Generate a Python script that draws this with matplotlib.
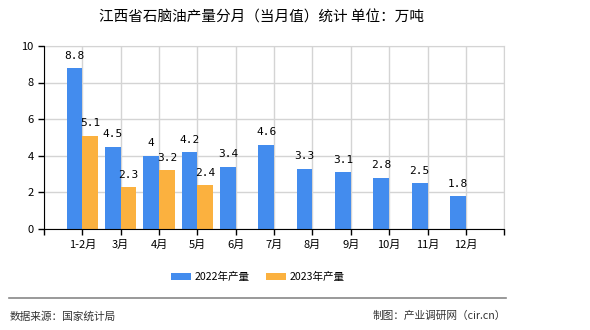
import matplotlib
matplotlib.use('Agg')
import matplotlib.pyplot as plt
import numpy as np

plt.rcParams['font.family'] = ['Noto Sans CJK SC', 'DejaVu Sans']

months = ['1-2月', '3月', '4月', '5月', '6月', '7月', '8月', '9月', '10月', '11月', '12月']
prod2022 = [8.8, 4.5, 4, 4.2, 3.4, 4.6, 3.3, 3.1, 2.8, 2.5, 1.8]
prod2023 = [5.1, 2.3, 3.2, 2.4]
yticks = [0, 2, 4, 6, 8, 10]

blue = '#438CEE'
orange = '#FBB13F'

fig = plt.figure(figsize=(5.9, 3.3), dpi=100)
ax = fig.add_axes([0.0746, 0.306, 0.780, 0.555])

x = np.arange(len(months))
w = 0.41
b1 = ax.bar(x - w / 2, prod2022, w, color=blue, label='2022年产量', zorder=3)
x23 = np.arange(len(prod2023))
b2 = ax.bar(x23 + w / 2, prod2023, w, color=orange, label='2023年产量', zorder=3)

for rect, v in zip(b1, prod2022):
    ax.text(rect.get_x() + rect.get_width() / 2, v + 0.4, '%g' % v,
            ha='center', va='bottom', fontsize=8, family='DejaVu Sans Mono', zorder=4)
for rect, v in zip(b2, prod2023):
    ax.text(rect.get_x() + rect.get_width() / 2, v + 0.4, '%g' % v,
            ha='center', va='bottom', fontsize=8, family='DejaVu Sans Mono', zorder=4)

ax.set_xlim(-1, len(months))
ax.set_ylim(0, 10)
ax.set_yticks(yticks)
ax.set_xticks(x)
ax.set_xticklabels(months, fontsize=8)
ax.set_xticks(np.arange(-1, len(months) + 1), minor=True)
ax.tick_params(axis='y', labelsize=8, length=4, width=1)
ax.tick_params(axis='x', which='both', length=4, width=1)
ax.grid(True, which='minor', axis='x', color='#D4D4D4', linewidth=1, zorder=0)
ax.grid(True, which='major', axis='x', color='#D4D4D4', linewidth=1, zorder=0)
ax.grid(True, axis='y', color='#D4D4D4', linewidth=1, zorder=0)

for s in ['top', 'right']:
    ax.spines[s].set_color('#D4D4D4')
for s in ['left', 'bottom']:
    ax.spines[s].set_color('black')
    ax.spines[s].set_zorder(5)

fig.text(0.443, 0.948, '江西省石脑油产量分月（当月值）统计 单位：万吨', ha='center', va='center',
         fontsize=10.5)

fig.legend(handles=[b1, b2], loc='center', bbox_to_anchor=(0.437, 0.16), ncol=2,
           frameon=False, fontsize=7.6, handlelength=1.9, handleheight=0.7,
           columnspacing=1.6, handletextpad=0.35)

fig.add_artist(plt.Line2D([0.016, 0.858], [0.097, 0.097], color='#888888', linewidth=1.2))
fig.text(0.017, 0.042, '数据来源：国家统计局', ha='left', va='center', fontsize=7.7, color='#333333')
fig.text(0.857, 0.042, '制图：产业调研网（cir.cn）', ha='right', va='center', fontsize=7.7, color='#333333')

fig.savefig('out.png', dpi=100)
